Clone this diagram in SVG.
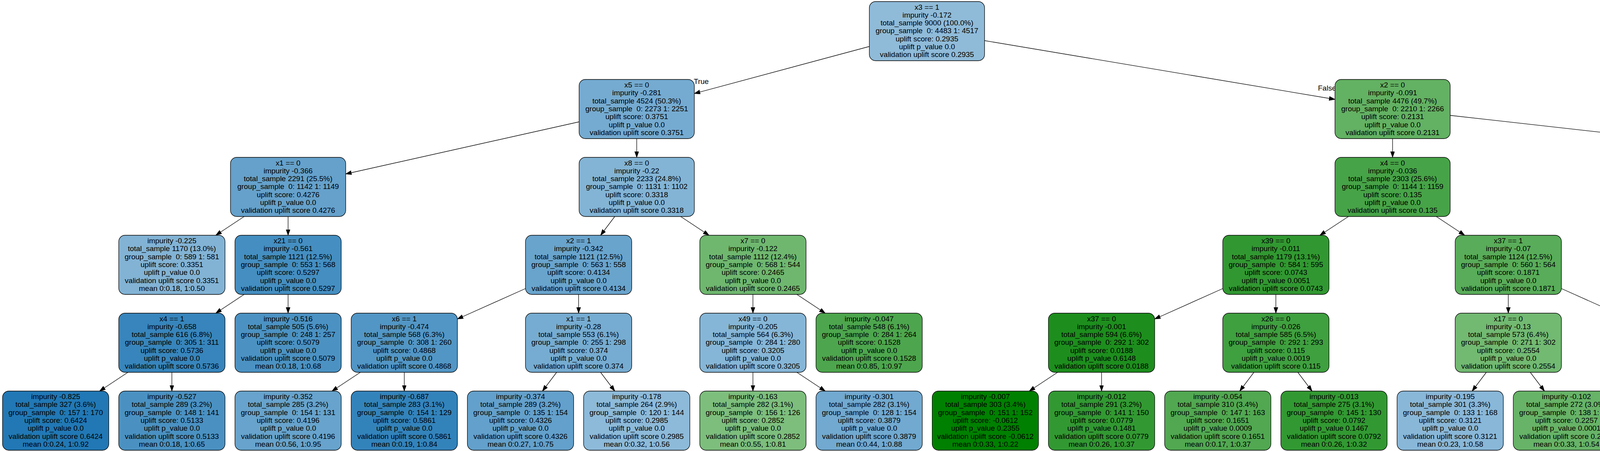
<svg xmlns="http://www.w3.org/2000/svg" width="7128" height="1155" viewBox="0 0 7128 1155">
<style>
text{font-family:"Liberation Sans",Arial,sans-serif;font-size:19px;fill:#000;text-anchor:middle}
.nd rect{stroke:#000;stroke-width:1.3}
.e path{stroke:#000;stroke-width:1.3;fill:none;marker-end:url(#ah)}
.lbl{text-anchor:start}
</style>
<defs>
<marker id="ah" markerUnits="userSpaceOnUse" markerWidth="16" markerHeight="11" refX="15" refY="5.25" orient="auto"><path d="M0,0 L15,5.25 L0,10.5 z" fill="#000" stroke="#000" stroke-width="1"/></marker>
</defs>
<rect width="7128" height="1155" fill="#fff"/>
<g id="edges" class="e">
<path d="M2225.5,119 L1777.5,239.5"/>
<path d="M2520.5,104 L3417.5,254.5"/>
<path d="M1482.5,312 L885,445.5"/>
<path d="M1630,355 L1630,403"/>
<path d="M3565,355 L3565,403"/>
<path d="M3712.5,295.5 L5201.25,462"/>
<path d="M625,554.5 L552.5,602.5"/>
<path d="M737.5,554.5 L737.5,602.5"/>
<path d="M1573.8,554.5 L1537.5,602.5"/>
<path d="M1742.5,554.5 L1815,602.5"/>
<path d="M3452,554.5 L3379,602.5"/>
<path d="M3677,554.5 L3749.5,602.5"/>
<path d="M5348.75,554.5 L5348.75,602.5"/>
<path d="M5496,511.5 L6105.25,647.5"/>
<path d="M625,754 L552.5,802"/>
<path d="M737.5,754 L737.5,802"/>
<path d="M1345.25,739 L1171,817"/>
<path d="M1481.25,754 L1481.25,802"/>
<path d="M1927.5,754 L1927.5,802"/>
<path d="M2040,754 L2112.5,802"/>
<path d="M3130.25,739 L2956,817"/>
<path d="M3266.25,754 L3266.25,802"/>
<path d="M3861.25,754 L3861.25,802"/>
<path d="M3997.25,739 L4171.5,817"/>
<path d="M5292.5,754 L5256,802"/>
<path d="M5405,754 L5441.5,802"/>
<path d="M6241.25,754 L6241.25,802"/>
<path d="M6377.25,739 L6551.5,817"/>
<path d="M327.5,953.5 L255,1001.5"/>
<path d="M440,953.5 L440,1001.5"/>
<path d="M922.5,953.5 L850,1001.5"/>
<path d="M1035,953.5 L1035,1001.5"/>
<path d="M1425,953.5 L1388.7,1001.5"/>
<path d="M1537.5,953.5 L1573.8,1001.5"/>
<path d="M1927.5,953.5 L1927.5,1001.5"/>
<path d="M2040,953.5 L2112.5,1001.5"/>
<path d="M2707.5,953.5 L2635,1001.5"/>
<path d="M2820,953.5 L2820,1001.5"/>
<path d="M3210,953.5 L3173.7,1001.5"/>
<path d="M3322.5,953.5 L3358.8,1001.5"/>
<path d="M3805,953.5 L3768.7,1001.5"/>
<path d="M3917.5,953.5 L3953.8,1001.5"/>
<path d="M4307.5,953.5 L4307.5,1001.5"/>
<path d="M4420,953.5 L4492.5,1001.5"/>
<path d="M5087.5,953.5 L5015,1001.5"/>
<path d="M5200,953.5 L5200,1001.5"/>
<path d="M5497.5,953.5 L5497.5,1001.5"/>
<path d="M5610,953.5 L5682.5,1001.5"/>
<path d="M6185,953.5 L6148.7,1001.5"/>
<path d="M6297.5,953.5 L6333.8,1001.5"/>
<path d="M6687.5,953.5 L6687.5,1001.5"/>
<path d="M6800,953.5 L6872.5,1001.5"/>
<text class="lbl" x="1776" y="215">True</text>
<text class="lbl" x="3374" y="232">False</text>
</g>
<g id="n0" class="nd"><rect x="2225.5" y="4" width="295" height="151.5" rx="16" fill="#8fbbd9"/><text x="2373" y="24.5"><tspan x="2373">x3 == 1</tspan><tspan x="2373" dy="20.3">impurity -0.172</tspan><tspan x="2373" dy="20.3">total_sample 9000 (100.0%)</tspan><tspan x="2373" dy="20.3">group_sample&#160; 0: 4483 1: 4517</tspan><tspan x="2373" dy="20.3">uplift score: 0.2935</tspan><tspan x="2373" dy="20.3">uplift p_value 0.0</tspan><tspan x="2373" dy="20.3">validation uplift score 0.2935</tspan></text></g>
<g id="n1" class="nd"><rect x="1482.5" y="203.5" width="295" height="151.5" rx="16" fill="#75abd1"/><text x="1630" y="224"><tspan x="1630">x5 == 0</tspan><tspan x="1630" dy="20.3">impurity -0.281</tspan><tspan x="1630" dy="20.3">total_sample 4524 (50.3%)</tspan><tspan x="1630" dy="20.3">group_sample&#160; 0: 2273 1: 2251</tspan><tspan x="1630" dy="20.3">uplift score: 0.3751</tspan><tspan x="1630" dy="20.3">uplift p_value 0.0</tspan><tspan x="1630" dy="20.3">validation uplift score 0.3751</tspan></text></g>
<g id="n2" class="nd"><rect x="3417.5" y="203.5" width="295" height="151.5" rx="16" fill="#63b163"/><text x="3565" y="224"><tspan x="3565">x2 == 0</tspan><tspan x="3565" dy="20.3">impurity -0.091</tspan><tspan x="3565" dy="20.3">total_sample 4476 (49.7%)</tspan><tspan x="3565" dy="20.3">group_sample&#160; 0: 2210 1: 2266</tspan><tspan x="3565" dy="20.3">uplift score: 0.2131</tspan><tspan x="3565" dy="20.3">uplift p_value 0.0</tspan><tspan x="3565" dy="20.3">validation uplift score 0.2131</tspan></text></g>
<g id="n3" class="nd"><rect x="590" y="403" width="295" height="151.5" rx="16" fill="#65a1cb"/><text x="737.5" y="423.5"><tspan x="737.5">x1 == 0</tspan><tspan x="737.5" dy="20.3">impurity -0.366</tspan><tspan x="737.5" dy="20.3">total_sample 2291 (25.5%)</tspan><tspan x="737.5" dy="20.3">group_sample&#160; 0: 1142 1: 1149</tspan><tspan x="737.5" dy="20.3">uplift score: 0.4276</tspan><tspan x="737.5" dy="20.3">uplift p_value 0.0</tspan><tspan x="737.5" dy="20.3">validation uplift score 0.4276</tspan></text></g>
<g id="n4" class="nd"><rect x="1482.5" y="403" width="295" height="151.5" rx="16" fill="#83b4d5"/><text x="1630" y="423.5"><tspan x="1630">x8 == 0</tspan><tspan x="1630" dy="20.3">impurity -0.22</tspan><tspan x="1630" dy="20.3">total_sample 2233 (24.8%)</tspan><tspan x="1630" dy="20.3">group_sample&#160; 0: 1131 1: 1102</tspan><tspan x="1630" dy="20.3">uplift score: 0.3318</tspan><tspan x="1630" dy="20.3">uplift p_value 0.0</tspan><tspan x="1630" dy="20.3">validation uplift score 0.3318</tspan></text></g>
<g id="n5" class="nd"><rect x="3417.5" y="403" width="295" height="151.5" rx="16" fill="#47a347"/><text x="3565" y="423.5"><tspan x="3565">x4 == 0</tspan><tspan x="3565" dy="20.3">impurity -0.036</tspan><tspan x="3565" dy="20.3">total_sample 2303 (25.6%)</tspan><tspan x="3565" dy="20.3">group_sample&#160; 0: 1144 1: 1159</tspan><tspan x="3565" dy="20.3">uplift score: 0.135</tspan><tspan x="3565" dy="20.3">uplift p_value 0.0</tspan><tspan x="3565" dy="20.3">validation uplift score 0.135</tspan></text></g>
<g id="n6" class="nd"><rect x="5201.25" y="403" width="295" height="151.5" rx="16" fill="#7dbe7d"/><text x="5348.75" y="423.5"><tspan x="5348.75">x4 == 1</tspan><tspan x="5348.75" dy="20.3">impurity -0.165</tspan><tspan x="5348.75" dy="20.3">total_sample 2173 (24.1%)</tspan><tspan x="5348.75" dy="20.3">group_sample&#160; 0: 1066 1: 1107</tspan><tspan x="5348.75" dy="20.3">uplift score: 0.2875</tspan><tspan x="5348.75" dy="20.3">uplift p_value 0.0</tspan><tspan x="5348.75" dy="20.3">validation uplift score 0.2875</tspan></text></g>
<g id="n7" class="nd"><rect x="304" y="602.5" width="272" height="151.5" rx="16" fill="#82b3d5"/><text x="440" y="623"><tspan x="440">impurity -0.225</tspan><tspan x="440" dy="20.3">total_sample 1170 (13.0%)</tspan><tspan x="440" dy="20.3">group_sample&#160; 0: 589 1: 581</tspan><tspan x="440" dy="20.3">uplift score: 0.3351</tspan><tspan x="440" dy="20.3">uplift p_value 0.0</tspan><tspan x="440" dy="20.3">validation uplift score 0.3351</tspan><tspan x="440" dy="20.3">mean 0:0.18, 1:0.50</tspan></text></g>
<g id="n8" class="nd"><rect x="601.5" y="602.5" width="272" height="151.5" rx="16" fill="#448ec1"/><text x="737.5" y="623"><tspan x="737.5">x21 == 0</tspan><tspan x="737.5" dy="20.3">impurity -0.561</tspan><tspan x="737.5" dy="20.3">total_sample 1121 (12.5%)</tspan><tspan x="737.5" dy="20.3">group_sample&#160; 0: 553 1: 568</tspan><tspan x="737.5" dy="20.3">uplift score: 0.5297</tspan><tspan x="737.5" dy="20.3">uplift p_value 0.0</tspan><tspan x="737.5" dy="20.3">validation uplift score 0.5297</tspan></text></g>
<g id="n9" class="nd"><rect x="1345.25" y="602.5" width="272" height="151.5" rx="16" fill="#69a4cd"/><text x="1481.25" y="623"><tspan x="1481.25">x2 == 1</tspan><tspan x="1481.25" dy="20.3">impurity -0.342</tspan><tspan x="1481.25" dy="20.3">total_sample 1121 (12.5%)</tspan><tspan x="1481.25" dy="20.3">group_sample&#160; 0: 563 1: 558</tspan><tspan x="1481.25" dy="20.3">uplift score: 0.4134</tspan><tspan x="1481.25" dy="20.3">uplift p_value 0.0</tspan><tspan x="1481.25" dy="20.3">validation uplift score 0.4134</tspan></text></g>
<g id="n10" class="nd"><rect x="1791.5" y="602.5" width="272" height="151.5" rx="16" fill="#6fb76f"/><text x="1927.5" y="623"><tspan x="1927.5">x7 == 0</tspan><tspan x="1927.5" dy="20.3">impurity -0.122</tspan><tspan x="1927.5" dy="20.3">total_sample 1112 (12.4%)</tspan><tspan x="1927.5" dy="20.3">group_sample&#160; 0: 568 1: 544</tspan><tspan x="1927.5" dy="20.3">uplift score: 0.2465</tspan><tspan x="1927.5" dy="20.3">uplift p_value 0.0</tspan><tspan x="1927.5" dy="20.3">validation uplift score 0.2465</tspan></text></g>
<g id="n11" class="nd"><rect x="3130.25" y="602.5" width="272" height="151.5" rx="16" fill="#319831"/><text x="3266.25" y="623"><tspan x="3266.25">x39 == 0</tspan><tspan x="3266.25" dy="20.3">impurity -0.011</tspan><tspan x="3266.25" dy="20.3">total_sample 1179 (13.1%)</tspan><tspan x="3266.25" dy="20.3">group_sample&#160; 0: 584 1: 595</tspan><tspan x="3266.25" dy="20.3">uplift score: 0.0743</tspan><tspan x="3266.25" dy="20.3">uplift p_value 0.0051</tspan><tspan x="3266.25" dy="20.3">validation uplift score 0.0743</tspan></text></g>
<g id="n12" class="nd"><rect x="3725.25" y="602.5" width="272" height="151.5" rx="16" fill="#59ac59"/><text x="3861.25" y="623"><tspan x="3861.25">x37 == 1</tspan><tspan x="3861.25" dy="20.3">impurity -0.07</tspan><tspan x="3861.25" dy="20.3">total_sample 1124 (12.5%)</tspan><tspan x="3861.25" dy="20.3">group_sample&#160; 0: 560 1: 564</tspan><tspan x="3861.25" dy="20.3">uplift score: 0.1871</tspan><tspan x="3861.25" dy="20.3">uplift p_value 0.0</tspan><tspan x="3861.25" dy="20.3">validation uplift score 0.1871</tspan></text></g>
<g id="n13" class="nd"><rect x="5212.75" y="602.5" width="272" height="151.5" rx="16" fill="#7eb1d4"/><text x="5348.75" y="623"><tspan x="5348.75">x5 == 1</tspan><tspan x="5348.75" dy="20.3">impurity -0.239</tspan><tspan x="5348.75" dy="20.3">total_sample 1100 (12.2%)</tspan><tspan x="5348.75" dy="20.3">group_sample&#160; 0: 549 1: 551</tspan><tspan x="5348.75" dy="20.3">uplift score: 0.3457</tspan><tspan x="5348.75" dy="20.3">uplift p_value 0.0</tspan><tspan x="5348.75" dy="20.3">validation uplift score 0.3457</tspan></text></g>
<g id="n14" class="nd"><rect x="6105.25" y="602.5" width="272" height="151.5" rx="16" fill="#6db66d"/><text x="6241.25" y="623"><tspan x="6241.25">x57 == 1</tspan><tspan x="6241.25" dy="20.3">impurity -0.118</tspan><tspan x="6241.25" dy="20.3">total_sample 1073 (11.9%)</tspan><tspan x="6241.25" dy="20.3">group_sample&#160; 0: 517 1: 556</tspan><tspan x="6241.25" dy="20.3">uplift score: 0.243</tspan><tspan x="6241.25" dy="20.3">uplift p_value 0.0</tspan><tspan x="6241.25" dy="20.3">validation uplift score 0.243</tspan></text></g>
<g id="n15" class="nd"><rect x="304" y="802" width="272" height="151.5" rx="16" fill="#3785bc"/><text x="440" y="822.5"><tspan x="440">x4 == 1</tspan><tspan x="440" dy="20.3">impurity -0.658</tspan><tspan x="440" dy="20.3">total_sample 616 (6.8%)</tspan><tspan x="440" dy="20.3">group_sample&#160; 0: 305 1: 311</tspan><tspan x="440" dy="20.3">uplift score: 0.5736</tspan><tspan x="440" dy="20.3">uplift p_value 0.0</tspan><tspan x="440" dy="20.3">validation uplift score 0.5736</tspan></text></g>
<g id="n16" class="nd"><rect x="601.5" y="802" width="272" height="151.5" rx="16" fill="#4b92c3"/><text x="737.5" y="822.5"><tspan x="737.5">impurity -0.516</tspan><tspan x="737.5" dy="20.3">total_sample 505 (5.6%)</tspan><tspan x="737.5" dy="20.3">group_sample&#160; 0: 248 1: 257</tspan><tspan x="737.5" dy="20.3">uplift score: 0.5079</tspan><tspan x="737.5" dy="20.3">uplift p_value 0.0</tspan><tspan x="737.5" dy="20.3">validation uplift score 0.5079</tspan><tspan x="737.5" dy="20.3">mean 0:0.18, 1:0.68</tspan></text></g>
<g id="n17" class="nd"><rect x="899" y="802" width="272" height="151.5" rx="16" fill="#5296c5"/><text x="1035" y="822.5"><tspan x="1035">x6 == 1</tspan><tspan x="1035" dy="20.3">impurity -0.474</tspan><tspan x="1035" dy="20.3">total_sample 568 (6.3%)</tspan><tspan x="1035" dy="20.3">group_sample&#160; 0: 308 1: 260</tspan><tspan x="1035" dy="20.3">uplift score: 0.4868</tspan><tspan x="1035" dy="20.3">uplift p_value 0.0</tspan><tspan x="1035" dy="20.3">validation uplift score 0.4868</tspan></text></g>
<g id="n18" class="nd"><rect x="1345.25" y="802" width="272" height="151.5" rx="16" fill="#76acd1"/><text x="1481.25" y="822.5"><tspan x="1481.25">x1 == 1</tspan><tspan x="1481.25" dy="20.3">impurity -0.28</tspan><tspan x="1481.25" dy="20.3">total_sample 553 (6.1%)</tspan><tspan x="1481.25" dy="20.3">group_sample&#160; 0: 255 1: 298</tspan><tspan x="1481.25" dy="20.3">uplift score: 0.374</tspan><tspan x="1481.25" dy="20.3">uplift p_value 0.0</tspan><tspan x="1481.25" dy="20.3">validation uplift score 0.374</tspan></text></g>
<g id="n19" class="nd"><rect x="1791.5" y="802" width="272" height="151.5" rx="16" fill="#86b6d7"/><text x="1927.5" y="822.5"><tspan x="1927.5">x49 == 0</tspan><tspan x="1927.5" dy="20.3">impurity -0.205</tspan><tspan x="1927.5" dy="20.3">total_sample 564 (6.3%)</tspan><tspan x="1927.5" dy="20.3">group_sample&#160; 0: 284 1: 280</tspan><tspan x="1927.5" dy="20.3">uplift score: 0.3205</tspan><tspan x="1927.5" dy="20.3">uplift p_value 0.0</tspan><tspan x="1927.5" dy="20.3">validation uplift score 0.3205</tspan></text></g>
<g id="n20" class="nd"><rect x="2089" y="802" width="272" height="151.5" rx="16" fill="#4da64d"/><text x="2225" y="822.5"><tspan x="2225">impurity -0.047</tspan><tspan x="2225" dy="20.3">total_sample 548 (6.1%)</tspan><tspan x="2225" dy="20.3">group_sample&#160; 0: 284 1: 264</tspan><tspan x="2225" dy="20.3">uplift score: 0.1528</tspan><tspan x="2225" dy="20.3">uplift p_value 0.0</tspan><tspan x="2225" dy="20.3">validation uplift score 0.1528</tspan><tspan x="2225" dy="20.3">mean 0:0.85, 1:0.97</tspan></text></g>
<g id="n21" class="nd"><rect x="2684" y="802" width="272" height="151.5" rx="16" fill="#1d8e1d"/><text x="2820" y="822.5"><tspan x="2820">x37 == 0</tspan><tspan x="2820" dy="20.3">impurity -0.001</tspan><tspan x="2820" dy="20.3">total_sample 594 (6.6%)</tspan><tspan x="2820" dy="20.3">group_sample&#160; 0: 292 1: 302</tspan><tspan x="2820" dy="20.3">uplift score: 0.0188</tspan><tspan x="2820" dy="20.3">uplift p_value 0.6148</tspan><tspan x="2820" dy="20.3">validation uplift score 0.0188</tspan></text></g>
<g id="n22" class="nd"><rect x="3130.25" y="802" width="272" height="151.5" rx="16" fill="#3fa03f"/><text x="3266.25" y="822.5"><tspan x="3266.25">x26 == 0</tspan><tspan x="3266.25" dy="20.3">impurity -0.026</tspan><tspan x="3266.25" dy="20.3">total_sample 585 (6.5%)</tspan><tspan x="3266.25" dy="20.3">group_sample&#160; 0: 292 1: 293</tspan><tspan x="3266.25" dy="20.3">uplift score: 0.115</tspan><tspan x="3266.25" dy="20.3">uplift p_value 0.0019</tspan><tspan x="3266.25" dy="20.3">validation uplift score 0.115</tspan></text></g>
<g id="n23" class="nd"><rect x="3725.25" y="802" width="272" height="151.5" rx="16" fill="#72b972"/><text x="3861.25" y="822.5"><tspan x="3861.25">x17 == 0</tspan><tspan x="3861.25" dy="20.3">impurity -0.13</tspan><tspan x="3861.25" dy="20.3">total_sample 573 (6.4%)</tspan><tspan x="3861.25" dy="20.3">group_sample&#160; 0: 271 1: 302</tspan><tspan x="3861.25" dy="20.3">uplift score: 0.2554</tspan><tspan x="3861.25" dy="20.3">uplift p_value 0.0</tspan><tspan x="3861.25" dy="20.3">validation uplift score 0.2554</tspan></text></g>
<g id="n24" class="nd"><rect x="4171.5" y="802" width="272" height="151.5" rx="16" fill="#45a245"/><text x="4307.5" y="822.5"><tspan x="4307.5">x6 == 1</tspan><tspan x="4307.5" dy="20.3">impurity -0.034</tspan><tspan x="4307.5" dy="20.3">total_sample 551 (6.1%)</tspan><tspan x="4307.5" dy="20.3">group_sample&#160; 0: 289 1: 262</tspan><tspan x="4307.5" dy="20.3">uplift score: 0.1308</tspan><tspan x="4307.5" dy="20.3">uplift p_value 0.0018</tspan><tspan x="4307.5" dy="20.3">validation uplift score 0.1308</tspan></text></g>
<g id="n25" class="nd"><rect x="5064" y="802" width="272" height="151.5" rx="16" fill="#7fb1d4"/><text x="5200" y="822.5"><tspan x="5200">x8 == 1</tspan><tspan x="5200" dy="20.3">impurity -0.238</tspan><tspan x="5200" dy="20.3">total_sample 556 (6.2%)</tspan><tspan x="5200" dy="20.3">group_sample&#160; 0: 285 1: 271</tspan><tspan x="5200" dy="20.3">uplift score: 0.3452</tspan><tspan x="5200" dy="20.3">uplift p_value 0.0</tspan><tspan x="5200" dy="20.3">validation uplift score 0.3452</tspan></text></g>
<g id="n26" class="nd"><rect x="5361.5" y="802" width="272" height="151.5" rx="16" fill="#77acd1"/><text x="5497.5" y="822.5"><tspan x="5497.5">x6 == 1</tspan><tspan x="5497.5" dy="20.3">impurity -0.273</tspan><tspan x="5497.5" dy="20.3">total_sample 544 (6.0%)</tspan><tspan x="5497.5" dy="20.3">group_sample&#160; 0: 264 1: 280</tspan><tspan x="5497.5" dy="20.3">uplift score: 0.3697</tspan><tspan x="5497.5" dy="20.3">uplift p_value 0.0</tspan><tspan x="5497.5" dy="20.3">validation uplift score 0.3697</tspan></text></g>
<g id="n27" class="nd"><rect x="6105.25" y="802" width="272" height="151.5" rx="16" fill="#8ab8d8"/><text x="6241.25" y="822.5"><tspan x="6241.25">x59 == 1</tspan><tspan x="6241.25" dy="20.3">impurity -0.193</tspan><tspan x="6241.25" dy="20.3">total_sample 538 (6.0%)</tspan><tspan x="6241.25" dy="20.3">group_sample&#160; 0: 267 1: 271</tspan><tspan x="6241.25" dy="20.3">uplift score: 0.3108</tspan><tspan x="6241.25" dy="20.3">uplift p_value 0.0</tspan><tspan x="6241.25" dy="20.3">validation uplift score 0.3108</tspan></text></g>
<g id="n28" class="nd"><rect x="6551.5" y="802" width="272" height="151.5" rx="16" fill="#51a851"/><text x="6687.5" y="822.5"><tspan x="6687.5">x9 == 1</tspan><tspan x="6687.5" dy="20.3">impurity -0.053</tspan><tspan x="6687.5" dy="20.3">total_sample 535 (5.9%)</tspan><tspan x="6687.5" dy="20.3">group_sample&#160; 0: 250 1: 285</tspan><tspan x="6687.5" dy="20.3">uplift score: 0.1634</tspan><tspan x="6687.5" dy="20.3">uplift p_value 0.0001</tspan><tspan x="6687.5" dy="20.3">validation uplift score 0.1634</tspan></text></g>
<g id="L0" class="nd"><rect x="6.5" y="1001.5" width="272" height="151.5" rx="16" fill="#2178b5"/><text x="142.5" y="1022"><tspan x="142.5">impurity -0.825</tspan><tspan x="142.5" dy="20.3">total_sample 327 (3.6%)</tspan><tspan x="142.5" dy="20.3">group_sample&#160; 0: 157 1: 170</tspan><tspan x="142.5" dy="20.3">uplift score: 0.6424</tspan><tspan x="142.5" dy="20.3">uplift p_value 0.0</tspan><tspan x="142.5" dy="20.3">validation uplift score 0.6424</tspan><tspan x="142.5" dy="20.3">mean 0:0.24, 1:0.92</tspan></text></g>
<g id="L1" class="nd"><rect x="304" y="1001.5" width="272" height="151.5" rx="16" fill="#4a91c2"/><text x="440" y="1022"><tspan x="440">impurity -0.527</tspan><tspan x="440" dy="20.3">total_sample 289 (3.2%)</tspan><tspan x="440" dy="20.3">group_sample&#160; 0: 148 1: 141</tspan><tspan x="440" dy="20.3">uplift score: 0.5133</tspan><tspan x="440" dy="20.3">uplift p_value 0.0</tspan><tspan x="440" dy="20.3">validation uplift score 0.5133</tspan><tspan x="440" dy="20.3">mean 0:0.18, 1:0.65</tspan></text></g>
<g id="L2" class="nd"><rect x="601.5" y="1001.5" width="272" height="151.5" rx="16" fill="#67a3cc"/><text x="737.5" y="1022"><tspan x="737.5">impurity -0.352</tspan><tspan x="737.5" dy="20.3">total_sample 285 (3.2%)</tspan><tspan x="737.5" dy="20.3">group_sample&#160; 0: 154 1: 131</tspan><tspan x="737.5" dy="20.3">uplift score: 0.4196</tspan><tspan x="737.5" dy="20.3">uplift p_value 0.0</tspan><tspan x="737.5" dy="20.3">validation uplift score 0.4196</tspan><tspan x="737.5" dy="20.3">mean 0:0.56, 1:0.95</tspan></text></g>
<g id="L3" class="nd"><rect x="899" y="1001.5" width="272" height="151.5" rx="16" fill="#3383bb"/><text x="1035" y="1022"><tspan x="1035">impurity -0.687</tspan><tspan x="1035" dy="20.3">total_sample 283 (3.1%)</tspan><tspan x="1035" dy="20.3">group_sample&#160; 0: 154 1: 129</tspan><tspan x="1035" dy="20.3">uplift score: 0.5861</tspan><tspan x="1035" dy="20.3">uplift p_value 0.0</tspan><tspan x="1035" dy="20.3">validation uplift score 0.5861</tspan><tspan x="1035" dy="20.3">mean 0:0.19, 1:0.84</tspan></text></g>
<g id="L4" class="nd"><rect x="1196.5" y="1001.5" width="272" height="151.5" rx="16" fill="#63a0cb"/><text x="1332.5" y="1022"><tspan x="1332.5">impurity -0.374</tspan><tspan x="1332.5" dy="20.3">total_sample 289 (3.2%)</tspan><tspan x="1332.5" dy="20.3">group_sample&#160; 0: 135 1: 154</tspan><tspan x="1332.5" dy="20.3">uplift score: 0.4326</tspan><tspan x="1332.5" dy="20.3">uplift p_value 0.0</tspan><tspan x="1332.5" dy="20.3">validation uplift score 0.4326</tspan><tspan x="1332.5" dy="20.3">mean 0:0.27, 1:0.75</tspan></text></g>
<g id="L5" class="nd"><rect x="1494" y="1001.5" width="272" height="151.5" rx="16" fill="#8dbad9"/><text x="1630" y="1022"><tspan x="1630">impurity -0.178</tspan><tspan x="1630" dy="20.3">total_sample 264 (2.9%)</tspan><tspan x="1630" dy="20.3">group_sample&#160; 0: 120 1: 144</tspan><tspan x="1630" dy="20.3">uplift score: 0.2985</tspan><tspan x="1630" dy="20.3">uplift p_value 0.0</tspan><tspan x="1630" dy="20.3">validation uplift score 0.2985</tspan><tspan x="1630" dy="20.3">mean 0:0.32, 1:0.56</tspan></text></g>
<g id="L6" class="nd"><rect x="1791.5" y="1001.5" width="272" height="151.5" rx="16" fill="#7dbe7d"/><text x="1927.5" y="1022"><tspan x="1927.5">impurity -0.163</tspan><tspan x="1927.5" dy="20.3">total_sample 282 (3.1%)</tspan><tspan x="1927.5" dy="20.3">group_sample&#160; 0: 156 1: 126</tspan><tspan x="1927.5" dy="20.3">uplift score: 0.2852</tspan><tspan x="1927.5" dy="20.3">uplift p_value 0.0</tspan><tspan x="1927.5" dy="20.3">validation uplift score 0.2852</tspan><tspan x="1927.5" dy="20.3">mean 0:0.55, 1:0.81</tspan></text></g>
<g id="L7" class="nd"><rect x="2089" y="1001.5" width="272" height="151.5" rx="16" fill="#71a9d0"/><text x="2225" y="1022"><tspan x="2225">impurity -0.301</tspan><tspan x="2225" dy="20.3">total_sample 282 (3.1%)</tspan><tspan x="2225" dy="20.3">group_sample&#160; 0: 128 1: 154</tspan><tspan x="2225" dy="20.3">uplift score: 0.3879</tspan><tspan x="2225" dy="20.3">uplift p_value 0.0</tspan><tspan x="2225" dy="20.3">validation uplift score 0.3879</tspan><tspan x="2225" dy="20.3">mean 0:0.44, 1:0.88</tspan></text></g>
<g id="L8" class="nd"><rect x="2386.5" y="1001.5" width="272" height="151.5" rx="16" fill="#008000"/><text x="2522.5" y="1022"><tspan x="2522.5">impurity -0.007</tspan><tspan x="2522.5" dy="20.3">total_sample 303 (3.4%)</tspan><tspan x="2522.5" dy="20.3">group_sample&#160; 0: 151 1: 152</tspan><tspan x="2522.5" dy="20.3">uplift score: -0.0612</tspan><tspan x="2522.5" dy="20.3">uplift p_value 0.2355</tspan><tspan x="2522.5" dy="20.3">validation uplift score -0.0612</tspan><tspan x="2522.5" dy="20.3">mean 0:0.33, 1:0.22</tspan></text></g>
<g id="L9" class="nd"><rect x="2684" y="1001.5" width="272" height="151.5" rx="16" fill="#329932"/><text x="2820" y="1022"><tspan x="2820">impurity -0.012</tspan><tspan x="2820" dy="20.3">total_sample 291 (3.2%)</tspan><tspan x="2820" dy="20.3">group_sample&#160; 0: 141 1: 150</tspan><tspan x="2820" dy="20.3">uplift score: 0.0779</tspan><tspan x="2820" dy="20.3">uplift p_value 0.1481</tspan><tspan x="2820" dy="20.3">validation uplift score 0.0779</tspan><tspan x="2820" dy="20.3">mean 0:0.26, 1:0.37</tspan></text></g>
<g id="L10" class="nd"><rect x="2981.5" y="1001.5" width="272" height="151.5" rx="16" fill="#51a851"/><text x="3117.5" y="1022"><tspan x="3117.5">impurity -0.054</tspan><tspan x="3117.5" dy="20.3">total_sample 310 (3.4%)</tspan><tspan x="3117.5" dy="20.3">group_sample&#160; 0: 147 1: 163</tspan><tspan x="3117.5" dy="20.3">uplift score: 0.1651</tspan><tspan x="3117.5" dy="20.3">uplift p_value 0.0009</tspan><tspan x="3117.5" dy="20.3">validation uplift score 0.1651</tspan><tspan x="3117.5" dy="20.3">mean 0:0.17, 1:0.37</tspan></text></g>
<g id="L11" class="nd"><rect x="3279" y="1001.5" width="272" height="151.5" rx="16" fill="#329932"/><text x="3415" y="1022"><tspan x="3415">impurity -0.013</tspan><tspan x="3415" dy="20.3">total_sample 275 (3.1%)</tspan><tspan x="3415" dy="20.3">group_sample&#160; 0: 145 1: 130</tspan><tspan x="3415" dy="20.3">uplift score: 0.0792</tspan><tspan x="3415" dy="20.3">uplift p_value 0.1467</tspan><tspan x="3415" dy="20.3">validation uplift score 0.0792</tspan><tspan x="3415" dy="20.3">mean 0:0.26, 1:0.32</tspan></text></g>
<g id="L12" class="nd"><rect x="3576.5" y="1001.5" width="272" height="151.5" rx="16" fill="#89b7d8"/><text x="3712.5" y="1022"><tspan x="3712.5">impurity -0.195</tspan><tspan x="3712.5" dy="20.3">total_sample 301 (3.3%)</tspan><tspan x="3712.5" dy="20.3">group_sample&#160; 0: 133 1: 168</tspan><tspan x="3712.5" dy="20.3">uplift score: 0.3121</tspan><tspan x="3712.5" dy="20.3">uplift p_value 0.0</tspan><tspan x="3712.5" dy="20.3">validation uplift score 0.3121</tspan><tspan x="3712.5" dy="20.3">mean 0:0.23, 1:0.58</tspan></text></g>
<g id="L13" class="nd"><rect x="3874" y="1001.5" width="272" height="151.5" rx="16" fill="#67b367"/><text x="4010" y="1022"><tspan x="4010">impurity -0.102</tspan><tspan x="4010" dy="20.3">total_sample 272 (3.0%)</tspan><tspan x="4010" dy="20.3">group_sample&#160; 0: 138 1: 134</tspan><tspan x="4010" dy="20.3">uplift score: 0.2257</tspan><tspan x="4010" dy="20.3">uplift p_value 0.0001</tspan><tspan x="4010" dy="20.3">validation uplift score 0.2257</tspan><tspan x="4010" dy="20.3">mean 0:0.33, 1:0.54</tspan></text></g>
<g id="L14" class="nd"><rect x="4171.5" y="1001.5" width="272" height="151.5" rx="16" fill="#2c962c"/><text x="4307.5" y="1022"><tspan x="4307.5">impurity -0.007</tspan><tspan x="4307.5" dy="20.3">total_sample 290 (3.2%)</tspan><tspan x="4307.5" dy="20.3">group_sample&#160; 0: 165 1: 125</tspan><tspan x="4307.5" dy="20.3">uplift score: 0.0608</tspan><tspan x="4307.5" dy="20.3">uplift p_value 0.304</tspan><tspan x="4307.5" dy="20.3">validation uplift score 0.0608</tspan><tspan x="4307.5" dy="20.3">mean 0:0.57, 1:0.60</tspan></text></g>
<g id="L15" class="nd"><rect x="4469" y="1001.5" width="272" height="151.5" rx="16" fill="#5faf5f"/><text x="4605" y="1022"><tspan x="4605">impurity -0.083</tspan><tspan x="4605" dy="20.3">total_sample 261 (2.9%)</tspan><tspan x="4605" dy="20.3">group_sample&#160; 0: 124 1: 137</tspan><tspan x="4605" dy="20.3">uplift score: 0.2036</tspan><tspan x="4605" dy="20.3">uplift p_value 0.0003</tspan><tspan x="4605" dy="20.3">validation uplift score 0.2036</tspan><tspan x="4605" dy="20.3">mean 0:0.10, 1:0.37</tspan></text></g>
<g id="L16" class="nd"><rect x="4766.5" y="1001.5" width="272" height="151.5" rx="16" fill="#7bbd7b"/><text x="4902.5" y="1022"><tspan x="4902.5">impurity -0.159</tspan><tspan x="4902.5" dy="20.3">total_sample 281 (3.1%)</tspan><tspan x="4902.5" dy="20.3">group_sample&#160; 0: 148 1: 133</tspan><tspan x="4902.5" dy="20.3">uplift score: 0.2816</tspan><tspan x="4902.5" dy="20.3">uplift p_value 0.0</tspan><tspan x="4902.5" dy="20.3">validation uplift score 0.2816</tspan><tspan x="4902.5" dy="20.3">mean 0:0.70, 1:0.95</tspan></text></g>
<g id="L17" class="nd"><rect x="5064" y="1001.5" width="272" height="151.5" rx="16" fill="#68a3cc"/><text x="5200" y="1022"><tspan x="5200">impurity -0.347</tspan><tspan x="5200" dy="20.3">total_sample 275 (3.1%)</tspan><tspan x="5200" dy="20.3">group_sample&#160; 0: 137 1: 138</tspan><tspan x="5200" dy="20.3">uplift score: 0.4166</tspan><tspan x="5200" dy="20.3">uplift p_value 0.0</tspan><tspan x="5200" dy="20.3">validation uplift score 0.4166</tspan><tspan x="5200" dy="20.3">mean 0:0.28, 1:0.75</tspan></text></g>
<g id="L18" class="nd"><rect x="5361.5" y="1001.5" width="272" height="151.5" rx="16" fill="#68a3cc"/><text x="5497.5" y="1022"><tspan x="5497.5">impurity -0.349</tspan><tspan x="5497.5" dy="20.3">total_sample 274 (3.0%)</tspan><tspan x="5497.5" dy="20.3">group_sample&#160; 0: 137 1: 137</tspan><tspan x="5497.5" dy="20.3">uplift score: 0.4176</tspan><tspan x="5497.5" dy="20.3">uplift p_value 0.0</tspan><tspan x="5497.5" dy="20.3">validation uplift score 0.4176</tspan><tspan x="5497.5" dy="20.3">mean 0:0.34, 1:0.80</tspan></text></g>
<g id="L19" class="nd"><rect x="5659" y="1001.5" width="272" height="151.5" rx="16" fill="#80b2d5"/><text x="5795" y="1022"><tspan x="5795">impurity -0.23</tspan><tspan x="5795" dy="20.3">total_sample 270 (3.0%)</tspan><tspan x="5795" dy="20.3">group_sample&#160; 0: 127 1: 143</tspan><tspan x="5795" dy="20.3">uplift score: 0.3394</tspan><tspan x="5795" dy="20.3">uplift p_value 0.0</tspan><tspan x="5795" dy="20.3">validation uplift score 0.3394</tspan><tspan x="5795" dy="20.3">mean 0:0.08, 1:0.41</tspan></text></g>
<g id="L20" class="nd"><rect x="5956.5" y="1001.5" width="272" height="151.5" rx="16" fill="#75abd1"/><text x="6092.5" y="1022"><tspan x="6092.5">impurity -0.281</tspan><tspan x="6092.5" dy="20.3">total_sample 276 (3.1%)</tspan><tspan x="6092.5" dy="20.3">group_sample&#160; 0: 128 1: 148</tspan><tspan x="6092.5" dy="20.3">uplift score: 0.3749</tspan><tspan x="6092.5" dy="20.3">uplift p_value 0.0</tspan><tspan x="6092.5" dy="20.3">validation uplift score 0.3749</tspan><tspan x="6092.5" dy="20.3">mean 0:0.17, 1:0.59</tspan></text></g>
<g id="L21" class="nd"><rect x="6254" y="1001.5" width="272" height="151.5" rx="16" fill="#79bc79"/><text x="6390" y="1022"><tspan x="6390">impurity -0.152</tspan><tspan x="6390" dy="20.3">total_sample 262 (2.9%)</tspan><tspan x="6390" dy="20.3">group_sample&#160; 0: 139 1: 123</tspan><tspan x="6390" dy="20.3">uplift score: 0.2754</tspan><tspan x="6390" dy="20.3">uplift p_value 0.0</tspan><tspan x="6390" dy="20.3">validation uplift score 0.2754</tspan><tspan x="6390" dy="20.3">mean 0:0.29, 1:0.54</tspan></text></g>
<g id="L22" class="nd"><rect x="6551.5" y="1001.5" width="272" height="151.5" rx="16" fill="#64b264"/><text x="6687.5" y="1022"><tspan x="6687.5">impurity -0.095</tspan><tspan x="6687.5" dy="20.3">total_sample 275 (3.1%)</tspan><tspan x="6687.5" dy="20.3">group_sample&#160; 0: 127 1: 148</tspan><tspan x="6687.5" dy="20.3">uplift score: 0.2177</tspan><tspan x="6687.5" dy="20.3">uplift p_value 0.0002</tspan><tspan x="6687.5" dy="20.3">validation uplift score 0.2177</tspan><tspan x="6687.5" dy="20.3">mean 0:0.28, 1:0.54</tspan></text></g>
<g id="L23" class="nd"><rect x="6849" y="1001.5" width="272" height="151.5" rx="16" fill="#309830"/><text x="6985" y="1022"><tspan x="6985">impurity -0.011</tspan><tspan x="6985" dy="20.3">total_sample 260 (2.9%)</tspan><tspan x="6985" dy="20.3">group_sample&#160; 0: 123 1: 137</tspan><tspan x="6985" dy="20.3">uplift score: 0.0726</tspan><tspan x="6985" dy="20.3">uplift p_value 0.2314</tspan><tspan x="6985" dy="20.3">validation uplift score 0.0726</tspan><tspan x="6985" dy="20.3">mean 0:0.40, 1:0.40</tspan></text></g>
</svg>
